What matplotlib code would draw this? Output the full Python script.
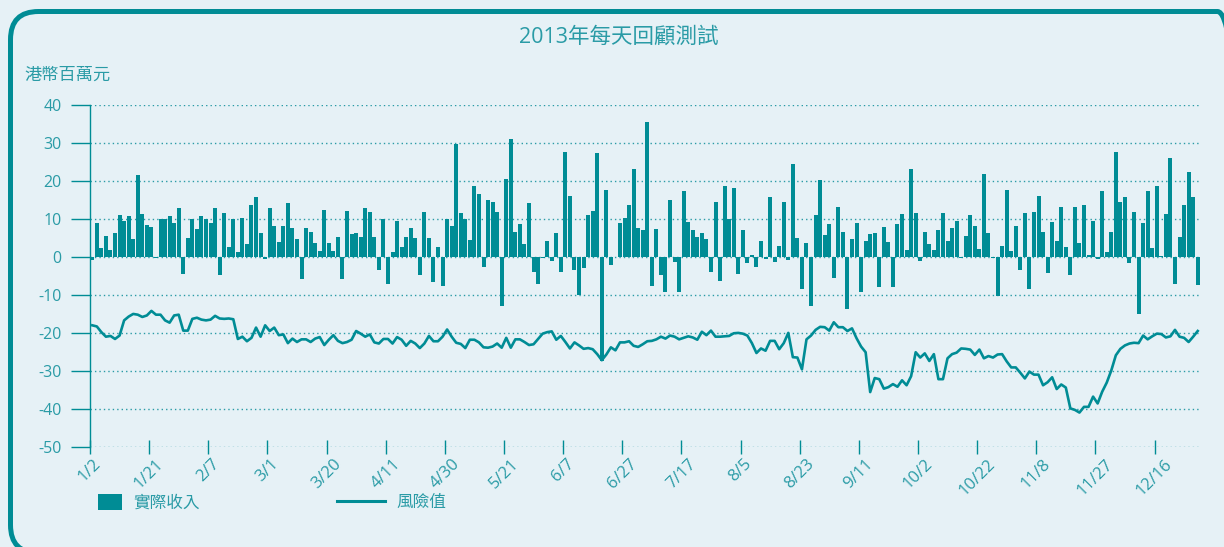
import matplotlib
matplotlib.use("Agg")
import matplotlib.pyplot as plt
from matplotlib.patches import FancyBboxPatch, Patch
from matplotlib.lines import Line2D
from matplotlib.transforms import IdentityTransform
import numpy as np

plt.rcParams['font.family'] = ['Open Sans', 'Noto Sans CJK TC']
plt.rcParams['axes.unicode_minus'] = False

# daily actual revenue (HK$ million), one value per trading day of 2013
revenue = [
    -0.9, 9.1, 2.5, 5.6, 1.9, 6.4, 11.2, 9.6, 10.9, 4.8, 21.7, 11.4, 8.5, 8.0, -0.2, 9.9,
    10.1, 10.9, 9.1, 12.8, -4.6, 5.1, 9.9, 7.5, 10.9, 10.1, 9.1, 13.0, -4.8, 11.7, 2.7,
    9.9, 1.4, 10.4, 3.5, 13.6, 15.9, 6.4, -0.6, 13.0, 8.3, 4.0, 8.3, 14.3, 7.7, 4.8, -5.9,
    7.7, 6.7, 3.8, 1.7, 12.5, 3.8, 1.7, 5.4, -5.9, 12.2, 6.2, 6.4, 5.4, 12.8, 12.0,
    5.4, -3.3, 9.9, -7.0, 1.4, 9.6, 2.7, 5.4, 7.7, 5.1, -4.8, 12.0, 5.1, -6.7, 2.7, -7.7,
    10.1, 8.3, 29.9, 11.7, 10.1, 4.6, 18.6, 16.5, -2.7, 15.1, 14.6, 12.0, -13.0, 20.7, 31.0,
    6.7, 8.8, 3.5, 14.3, -4.0, -7.2, -0.3, 4.3, -1.1, 6.4, -4.0, 27.8, 16.2, -3.5, -10.1,
    -3.0, 11.2, 12.2, 27.3, -27.3, 17.8, -2.2, 0.1, 9.1, 10.4, 13.6, 23.1, 7.7, 7.2, 35.7,
    -7.7, 7.5, -4.8, -9.1, 15.1, -1.4, -9.1, 17.3, 9.3, 7.0, 5.4, 6.4, 4.8, -4.0, 14.6,
    -6.4, 18.6, 9.9, 18.3, -4.6, 7.2, -1.7, 0.6, -2.7, 4.3, -0.6, 15.7, -1.4, 3.0, 14.6, -0.8,
    24.4, 5.1, -8.3, 3.8, -12.8, 11.2, 20.2, 5.9, 8.8, -5.6, 13.3, 6.7, -13.8, 4.8, 9.1,
    -9.3, 4.3, 6.2, 6.4, -8.0, 8.0, 4.0, -8.0, 8.8, 11.4, 1.9, 23.1, 11.7, -1.1, 6.7, 3.5,
    1.9, 7.2, 11.7, 4.3, 7.7, 9.6, -0.3, 5.6, 11.2, 8.3, 2.2, 22.0, 6.4, -0.3, -10.4, 3.0,
    17.8, 1.7, 8.3, -3.5, 11.7, -8.5, 12.0, 16.2, 6.7, -4.3, 9.3, 4.3, 13.3, 2.7, -4.8,
    13.3, 3.8, 13.6, 0.6, 9.6, -0.6, 17.5, 1.4, 6.7, 27.6, 14.6, 15.7, -1.7, 12.0, -15.1,
    9.1, 17.3, 2.5, 18.8, 0.4, 11.4, 26.2, -7.2, 5.4, 13.8, 22.3, 15.9, -7.5,
]

# daily value at risk (HK$ million)
var = [
    -18.0, -18.3, -19.8, -21.0, -20.8, -21.6, -20.7, -16.7, -15.7, -15.0, -15.2, -15.8,
    -15.4, -14.2, -15.2, -15.2, -16.7, -17.3, -15.4, -15.2, -19.4, -19.4, -16.3, -16.0,
    -16.5, -16.7, -16.5, -15.5, -16.2, -16.3, -16.2,
    -16.4, -21.6, -21.0, -22.2, -21.3, -18.6, -21.0, -18.0, -19.5, -18.6, -20.6, -20.4,
    -22.7, -21.5, -22.4, -21.7, -21.7, -22.4, -21.5, -21.1, -23.2, -21.8, -20.6, -22.1,
    -22.7, -22.4, -21.8, -19.5, -20.2, -21.0, -20.4,
    -22.5, -22.8, -21.6, -21.6, -22.8, -21.1, -21.8, -23.4, -22.1, -22.8, -24.0, -22.8,
    -20.8, -22.2, -22.2, -21.0, -19.1, -21.0, -22.6, -22.9, -24.0, -21.8, -21.8, -22.5,
    -23.8, -23.9, -23.6, -22.8, -23.9, -21.3, -23.9,
    -21.7, -21.7, -22.4, -23.2, -23.0, -21.6, -20.2, -19.8, -19.6, -21.8, -20.8, -22.4,
    -24.1, -22.5, -23.3, -24.2, -24.0, -24.3, -25.6, -27.2, -25.7, -23.8, -24.6, -22.5,
    -22.5, -22.2, -23.4, -23.7, -23.0, -22.2, -22.1,
    -21.7, -21.0, -21.5, -20.7, -21.0, -21.7, -21.3, -20.9, -21.2, -21.8, -19.7, -20.6,
    -19.4, -21.0, -21.0, -20.9, -20.8, -20.1, -20.0, -20.2, -20.7, -22.7, -25.3, -24.1,
    -24.7, -22.1, -22.1, -24.3, -22.7, -20.0,
    -26.4, -26.5, -29.6, -21.7, -20.7, -19.2, -18.4, -18.5, -19.4, -17.2, -18.5, -18.5,
    -19.5, -18.8, -21.4, -23.6, -25.1, -35.6, -31.9, -32.2, -34.7, -34.3, -33.5, -34.2,
    -32.5, -33.8, -31.4, -25.1, -26.5, -25.4, -27.4,
    -25.6, -32.2, -32.2, -26.7, -25.6, -25.2, -24.1, -24.2, -24.4, -25.8, -24.4, -26.7,
    -26.1, -26.5, -25.7, -25.6, -27.5, -29.1, -29.1, -30.5, -32.0, -30.2, -31.0, -31.0,
    -33.8, -33.0, -31.7, -34.8, -33.6, -34.4, -39.9,
    -40.3, -41.0, -39.5, -39.5, -36.8, -38.6, -35.5, -33.1, -29.9, -25.9, -24.2, -23.3,
    -22.8, -22.6, -22.7, -20.7, -21.7, -20.9, -20.2, -20.3, -21.2, -20.9, -19.2, -21.0,
    -21.3, -22.4, -21.0, -19.5,
]

date_labels = ['1/2', '1/21', '2/7', '3/1', '3/20', '4/11', '4/30', '5/21', '6/7', '6/27',
               '7/17', '8/5', '8/23', '9/11', '10/2', '10/22', '11/8', '11/27', '12/16']
label_step = 13

BG = '#e6f1f6'
TEAL = '#008c95'
TXT = '#2a9ba6'

fig = plt.figure(figsize=(12.24, 5.47), dpi=100, facecolor=BG)

# rounded frame around the whole chart (right and bottom edges run off the canvas)
frame = FancyBboxPatch((10.5, -6), 1235, 541.5,
                       boxstyle='round,pad=0,rounding_size=28',
                       transform=IdentityTransform(),
                       facecolor='none', edgecolor=TEAL, linewidth=3.6)
fig.patches.append(frame)

ax = fig.add_axes([90 / 1224, 1 - 446.7 / 547, 1110 / 1224, 341.4 / 547])
ax.patch.set_alpha(0)

x = np.arange(len(revenue))
ax.bar(x, revenue, width=0.88, color=TEAL, zorder=2)
ax.plot(x, var, color=TEAL, linewidth=1.9, zorder=3, solid_joinstyle='round')

ax.set_xlim(-0.5, len(revenue) - 0.5)
ax.set_ylim(-50, 40)
ax.set_yticks(np.arange(-50, 41, 10))
ax.set_xticks(np.arange(len(date_labels)) * label_step - 0.5)
ax.set_xticklabels(date_labels, rotation=45, ha='center', va='top')

ax.yaxis.grid(True, linestyle=(0, (1, 2.2)), color=TXT, linewidth=1)
ax.set_axisbelow(True)
for side in ['top', 'right', 'bottom']:
    ax.spines[side].set_visible(False)
ax.spines['left'].set_color(TEAL)
ax.spines['left'].set_linewidth(1)

ax.tick_params(axis='x', direction='inout', length=9.5, width=1, color=TEAL,
               pad=2, labelsize=12, labelcolor=TXT)
ax.tick_params(axis='y', direction='out', length=13.5, width=1, color=TEAL,
               pad=7, labelsize=11.5, labelcolor=TXT)

fig.text(619 / 1224, 1 - 37 / 547, '2013年每天回顧測試', ha='center', va='center',
         fontsize=15.5, color=TXT)
fig.text(24 / 1224, 1 - 76 / 547, '港幣百萬元', ha='left', va='center',
         fontsize=12.4, color=TXT)

# legend: bar swatch and line sample sit in separate groups
leg1 = fig.legend(handles=[Patch(facecolor=TEAL, edgecolor='none', label='實際收入')],
                  loc='center left', bbox_to_anchor=(98 / 1224, 1 - 503 / 547),
                  frameon=False, fontsize=12, labelcolor=TXT, handlelength=1.45,
                  handleheight=1.1, handletextpad=0.65, borderpad=0, borderaxespad=0)
leg2 = fig.legend(handles=[Line2D([], [], color=TEAL, linewidth=2.2, label='風險值')],
                  loc='center left', bbox_to_anchor=(337 / 1224, 1 - 503 / 547),
                  frameon=False, fontsize=12, labelcolor=TXT, handlelength=2.9,
                  handletextpad=0.65, borderpad=0, borderaxespad=0)

fig.savefig('out.png', dpi=100, facecolor=BG)
